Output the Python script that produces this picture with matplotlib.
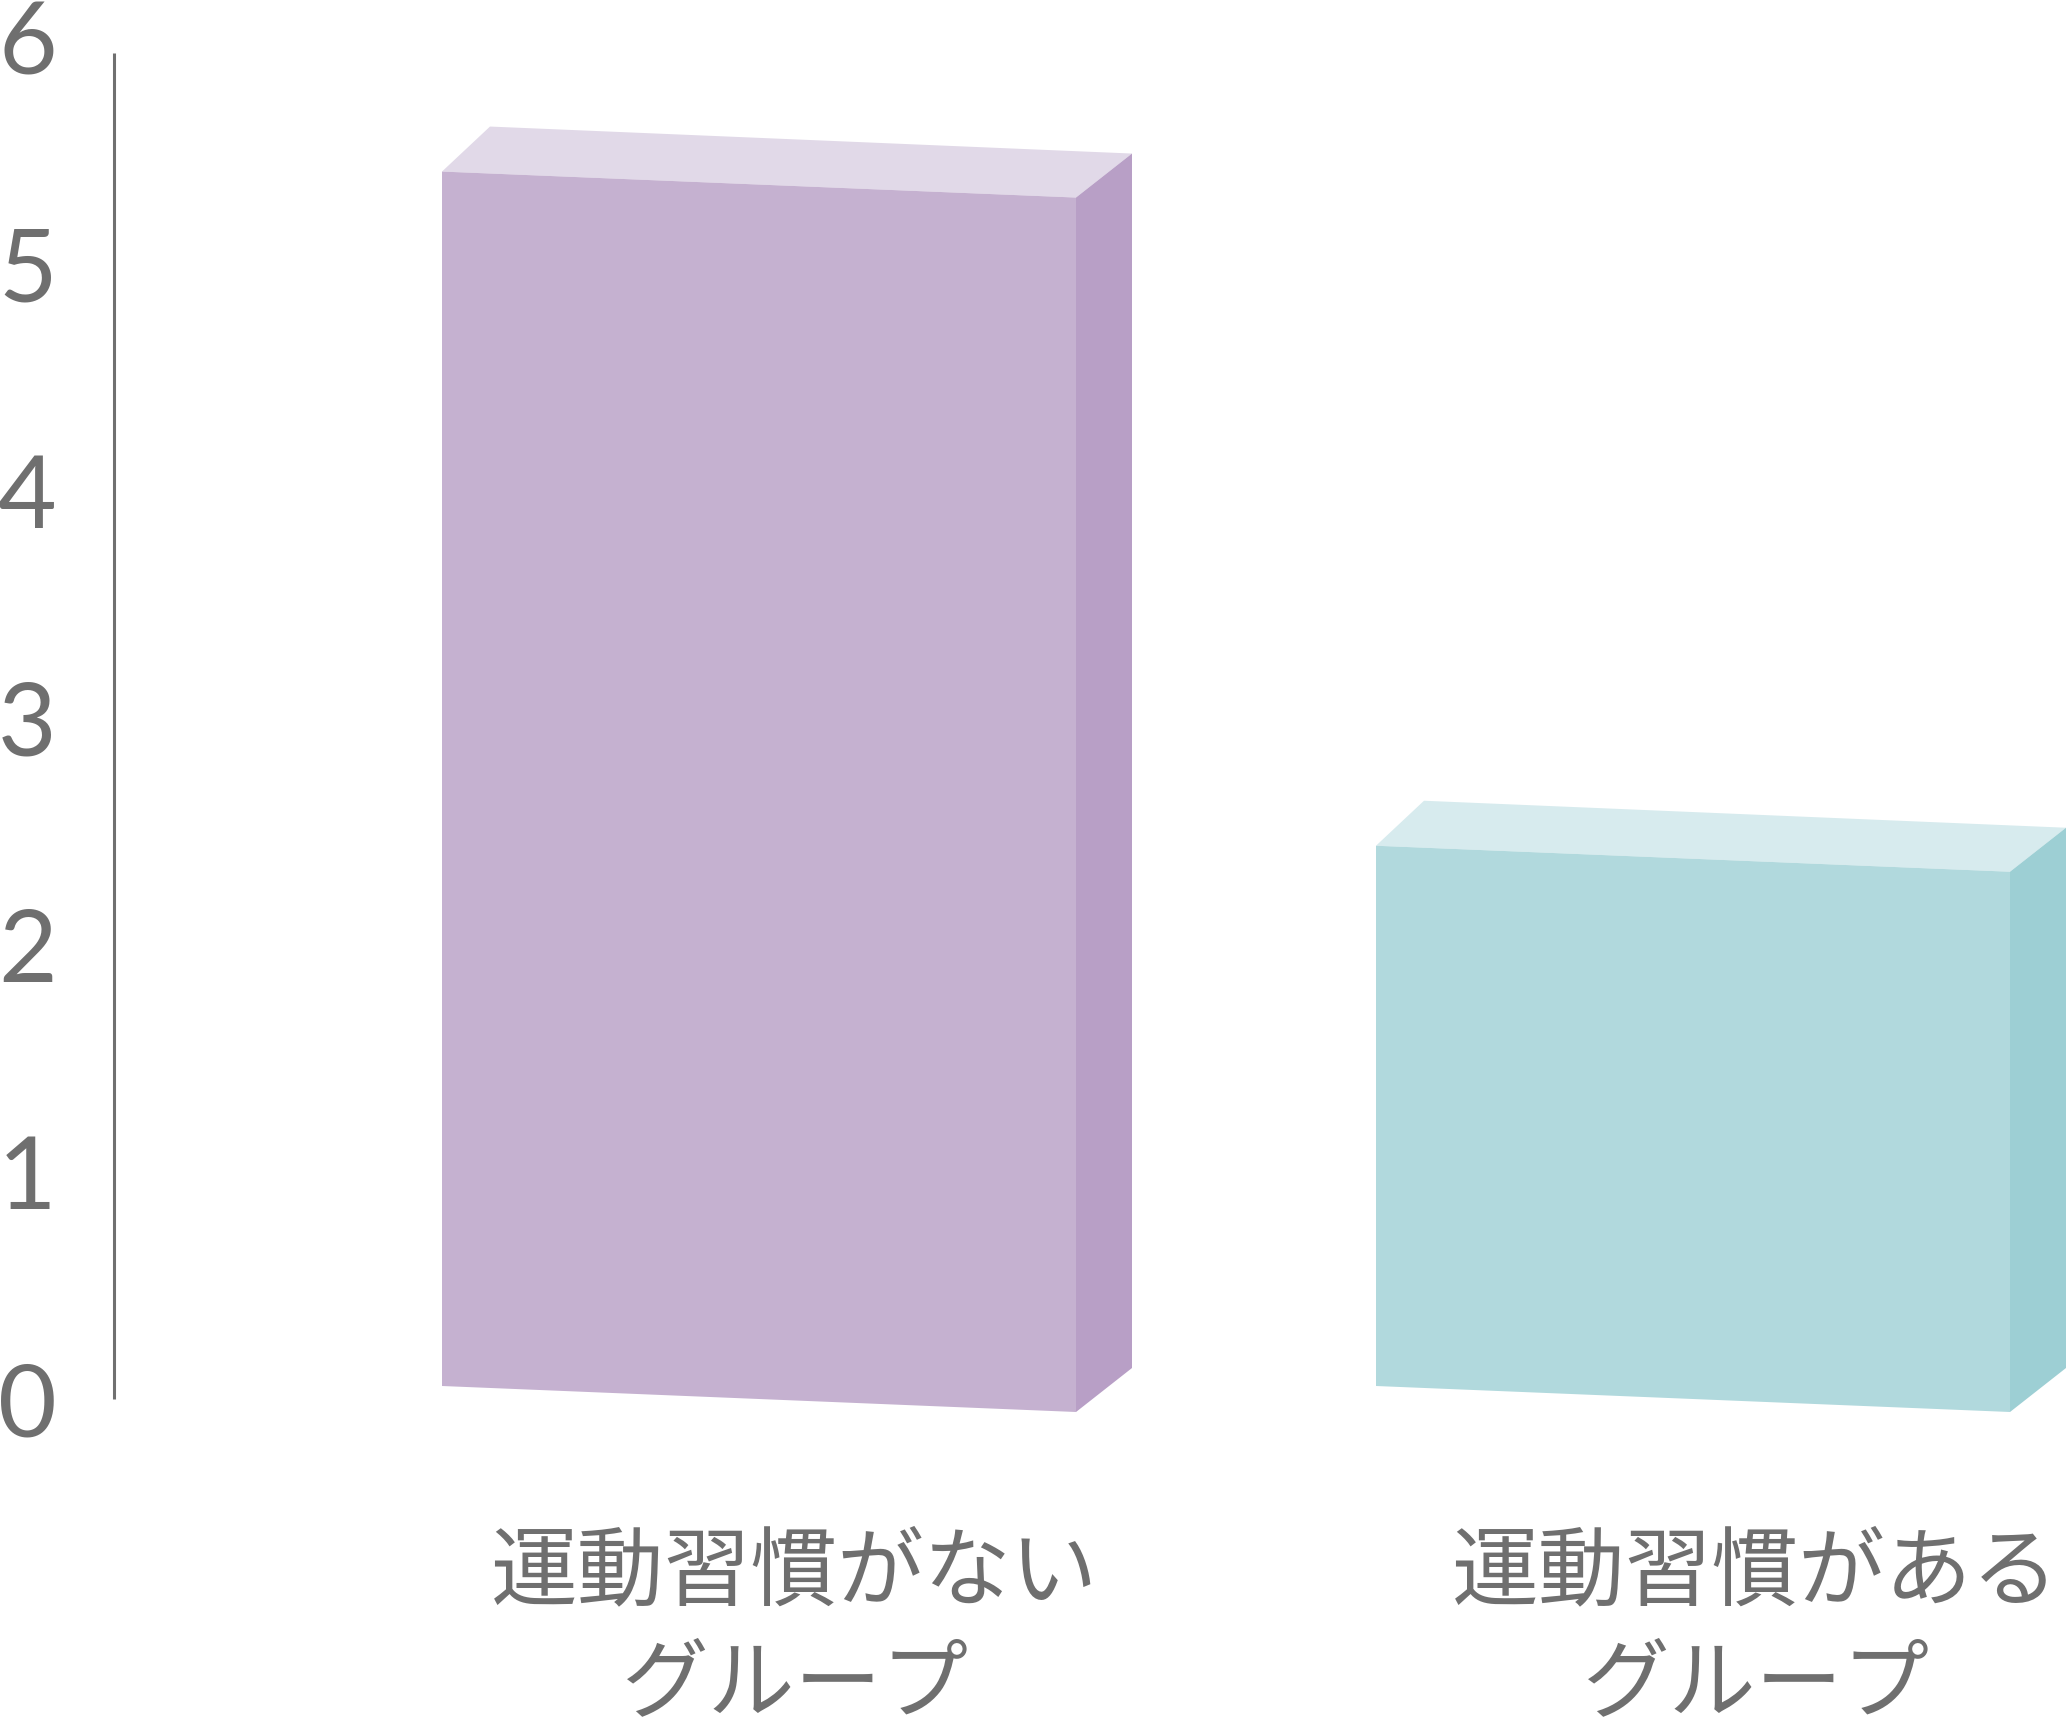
import matplotlib
matplotlib.use("Agg")
import matplotlib.pyplot as plt
from matplotlib.patches import Polygon
from matplotlib.transforms import IdentityTransform, blended_transform_factory, ScaledTranslation

# ---- data ----
categories = ["運動習慣がない\nグループ", "運動習慣がある\nグループ"]
values = [5.35, 2.38]
yticks = [0, 1, 2, 3, 4, 5, 6]
front_colors = ["#C5B1D0", "#B1D9DD"]
side_colors = ["#B89FC6", "#9DCFD4"]
top_colors = ["#E1D9E8", "#D7EBEE"]

TEXT = "#6F6F6F"
W, H, DPI = 2066, 1719, 100

fig = plt.figure(figsize=(W / DPI, H / DPI), dpi=DPI)
fig.patch.set_facecolor("white")
ax = fig.add_axes([0, 0, 1, 1])
ax.set_axis_off()
# pixel layout: bar centres at 759 px and 1693 px, zero line 1399 px from top, 227 px per unit
ax.set_xlim(-759 / 934, (W - 759) / 934)
ax.set_ylim(-(H - 1399) / 227, 1399 / 227)

bar_w = 634 / 934          # front face width in category units
slant = 13                 # px: left edge raised / right edge lowered
back_l = (48, 45)          # px offset of back-left edge
back_r = (56, 44)          # px offset of back-right edge

ident = IdentityTransform()
for i, (v, fc, sc, tc) in enumerate(zip(values, front_colors, side_colors, top_colors)):
    (x0, y0), (x1, y1) = ax.transData.transform([(i - bar_w / 2, 0), (i + bar_w / 2, v)])
    bl = (x0, y0 + slant)
    br = (x1, y0 - slant)
    tl = (x0, y1 + slant)
    tr = (x1, y1 - slant)
    tbl = (tl[0] + back_l[0], tl[1] + back_l[1])
    tbr = (tr[0] + back_r[0], tr[1] + back_r[1])
    bbr = (br[0] + back_r[0], br[1] + back_r[1])
    ax.add_patch(Polygon([tl, tbl, tbr, tr], closed=True, transform=ident,
                         facecolor=tc, edgecolor="none", antialiased=True))
    ax.add_patch(Polygon([tr, tbr, bbr, br], closed=True, transform=ident,
                         facecolor=sc, edgecolor="none", antialiased=True))
    ax.add_patch(Polygon([bl, br, tr, tl], closed=True, transform=ident,
                         facecolor=fc, edgecolor="none", antialiased=True))

# y axis line
ax_x = -645 / 934
ax.plot([ax_x, ax_x], [0, 5.93], color="#707070", lw=2.2, solid_capstyle="butt")

# y tick labels, left edge of figure
bt = blended_transform_factory(fig.transFigure, ax.transData)
for t in yticks:
    ax.text(0.0, t, str(t), transform=bt + ScaledTranslation(-2 / DPI, -37 / DPI, fig.dpi_scale_trans),
            ha="left", va="baseline", fontsize=73, color=TEXT,
            family=["Lato", "DejaVu Sans"], fontweight="normal")

# category labels
label_dx = [36 / 934, 63 / 934]
row_px = [175, 287]
for i, cat in enumerate(categories):
    for line, dy in zip(cat.split("\n"), row_px):
        ax.text(i + label_dx[i], 0, line,
                transform=ax.transData + ScaledTranslation(0, -dy / DPI, fig.dpi_scale_trans),
                ha="center", va="center", fontsize=62.5, color=TEXT,
                family=["Noto Sans CJK JP", "DejaVu Sans"])

fig.savefig("out.png", dpi=DPI, facecolor="white")
